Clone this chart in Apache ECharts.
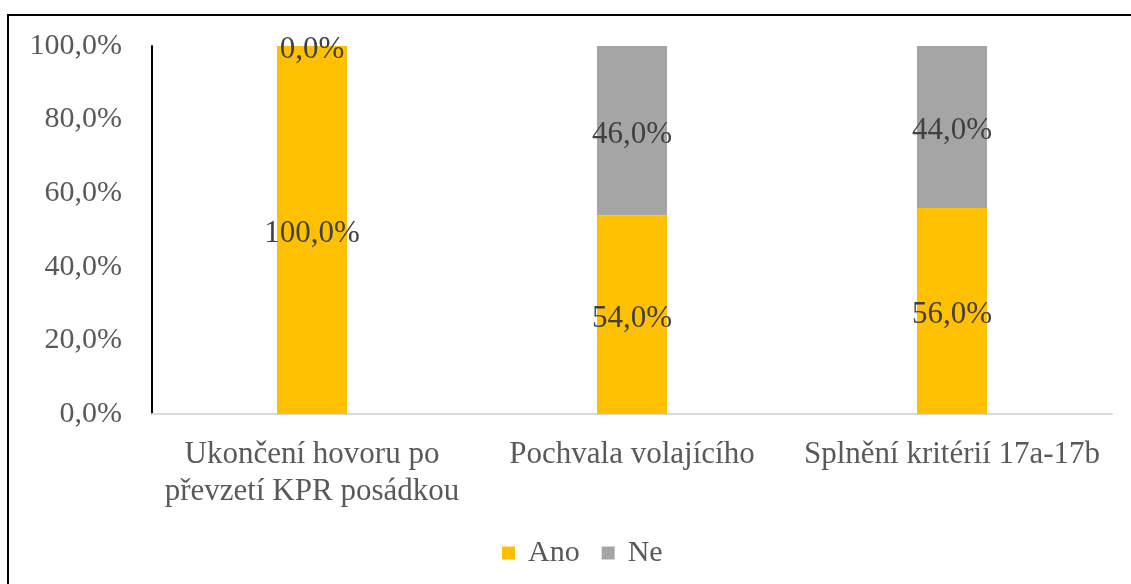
<!DOCTYPE html>
<html>
<head>
<meta charset="utf-8">
<script src="https://cdn.jsdelivr.net/npm/echarts@6/dist/echarts.min.js"></script>
<style>
  html, body { margin: 0; padding: 0; background: #fff; }
  #chart { width: 1131px; height: 584px; }
</style>
</head>
<body>
<div id="chart"></div>
<script>
// category tick labels, with the line break used in the original
var categories = ["Ukončení hovoru po\npřevzetí KPR posádkou", "Pochvala volajícího", "Splnění kritérií 17a-17b"];
var anoValues = [100, 54, 56];
var neValues = [0, 46, 44];
var yTicks = [0, 20, 40, 60, 80, 100];

var fontFamily = "'Liberation Serif', 'Times New Roman', serif";
var pct = function (v) {
    return Number(v).toFixed(1).replace(".", ",") + "%";
};

var chart = echarts.init(document.getElementById("chart"));
var labelStyle = {
    show: true,
    position: "inside",
    offset: [0, 4],
    color: "#404040",
    fontFamily: fontFamily,
    fontSize: 31,
    formatter: function (p) { return pct(p.value); }
};

chart.setOption({
    animation: false,
    backgroundColor: "#fff",
    graphic: [{
        type: "polyline",
        shape: { points: [[8, 584], [8, 15], [1131, 15]] },
        style: { stroke: "#000", lineWidth: 2, fill: null }
    }],
    grid: { left: 152, right: 19, top: 46, bottom: 170 },
    legend: {
        left: 497,
        top: 533,
        itemWidth: 13,
        itemHeight: 13,
        itemGap: 22,
        icon: "rect",
        textStyle: { color: "#595959", fontFamily: fontFamily, fontSize: 30, padding: [0, 0, 0, 8] },
        data: ["Ano", "Ne"]
    },
    xAxis: {
        type: "category",
        data: categories,
        axisLine: { lineStyle: { color: "#d9d9d9", width: 2 } },
        axisTick: { show: false },
        axisLabel: {
            color: "#595959",
            fontFamily: fontFamily,
            fontSize: 31,
            margin: 22,
            lineHeight: 37,
            overflow: "none",
            hideOverlap: false,
            interval: 0
        }
    },
    yAxis: {
        type: "value",
        min: yTicks[0],
        max: yTicks[yTicks.length - 1],
        interval: 20,
        splitLine: { show: false },
        axisLine: { show: true, lineStyle: { color: "#000", width: 2 } },
        axisTick: { show: false },
        axisLabel: {
            color: "#595959",
            fontFamily: fontFamily,
            fontSize: 30,
            margin: 30,
            formatter: pct
        }
    },
    series: [{
        name: "Ano",
        type: "bar",
        stack: "total",
        barWidth: 70,
        itemStyle: { color: "#FFC000" },
        label: labelStyle,
        data: anoValues
    }, {
        name: "Ne",
        type: "bar",
        stack: "total",
        barWidth: 70,
        itemStyle: { color: "#A5A5A5" },
        label: labelStyle,
        data: neValues
    }]
});
</script>
</body>
</html>
